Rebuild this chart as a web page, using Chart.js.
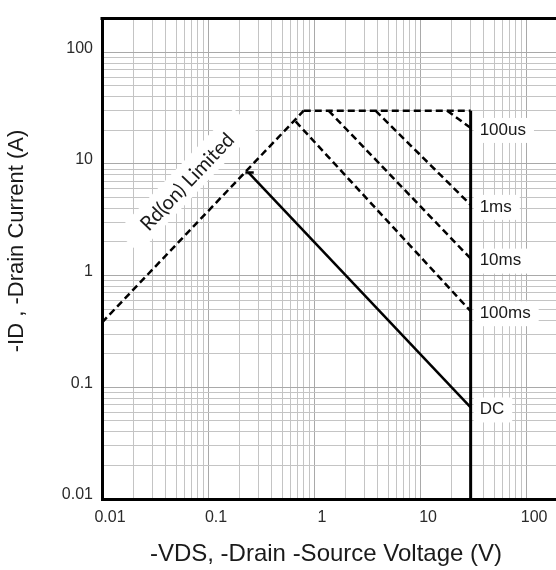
<!DOCTYPE html>
<html>
<head>
<meta charset="utf-8">
<title>Safe Operating Area</title>
<script src="https://cdn.jsdelivr.net/npm/chart.js@4.4.1/dist/chart.umd.min.js"></script>
<style>
  html, body { margin: 0; padding: 0; background: #fff; overflow: hidden; }
  #wrap { width: 560px; height: 570px; position: relative; }
</style>
</head>
<body>
<div id="wrap"><canvas id="grafico"></canvas></div>
<script>
// axis decades that get a label
const vdsDecades = [0.01, 0.1, 1, 10, 100];
const idDecades = [0.01, 0.1, 1, 10, 100];

// device limits
const vdsMax = 30;
const idMax = 30;

// Rds(on) limited line
const rdsV = [0.01, 0.8];
const rdsI = [0.38, 30];

// pulse / DC lines: start on the limit, end on vdsMax
const pulseNames = ['100us', '1ms', '10ms', '100ms', 'DC'];
const pulseStartV = [18, 3.8, 1.37, 0.67, 0.24];
const pulseStartI = [30, 30, 30, 24, 8.4];
const pulseEndI = [21, 4.3, 1.42, 0.48, 0.066];

// little cap where the DC line starts
const dcCapV = [0.225, 0.27];
const dcCapI = [8.4, 8.4];

const rdsLabel = 'Rd(on) Limited';
const rdsLabelAt = { x: 0.063, y: 7 };

function pts(xs, ys) {
    return xs.map((x, i) => ({ x: x, y: ys[i] }));
}

// 1..9 per decade for the grid
function logGrid(from, to) {
    const out = [];
    for (let d = from; d < to; d *= 10) {
        for (let k = 1; k < 10; k++) out.push({ value: +(d * k).toPrecision(3) });
    }
    out.push({ value: to });
    return out;
}

function isDecade(v) {
    const l = Math.log10(v);
    return Math.abs(l - Math.round(l)) < 1e-9;
}

const dashed = { borderColor: '#000', borderWidth: 2.5, borderDash: [7, 4], pointRadius: 0, fill: false, tension: 0 };
const solid = { borderColor: '#000', borderWidth: 2.5, pointRadius: 0, fill: false, tension: 0 };

const datasets = [
    Object.assign({ label: 'rds', data: pts(rdsV, rdsI) }, dashed),
    Object.assign({ label: 'idmax', data: pts([rdsV[1], vdsMax], [idMax, idMax]) }, dashed),
    Object.assign({ label: 'vdsmax', data: pts([vdsMax, vdsMax], [idMax, 0.01]) }, solid, { borderWidth: 3 })
];
pulseNames.forEach((name, i) => {
    const style = name === 'DC' ? solid : dashed;
    datasets.push(Object.assign({
        label: name,
        data: pts([pulseStartV[i], vdsMax], [pulseStartI[i], pulseEndI[i]])
    }, style));
});
datasets.push(Object.assign({ label: 'dccap', data: pts(dcCapV, dcCapI) }, solid));

// labels, white boxes, frame and axis titles
const soaText = {
    id: 'soaText',
    beforeDatasetsDraw(chart) {
        const ctx = chart.ctx;
        const xs = chart.scales.x, ys = chart.scales.y;
        const x1 = xs.getPixelForValue(rdsV[0]), y1 = ys.getPixelForValue(rdsI[0]);
        const x2 = xs.getPixelForValue(rdsV[1]), y2 = ys.getPixelForValue(rdsI[1]);
        const ang = Math.atan2(y2 - y1, x2 - x1);
        ctx.save();
        ctx.translate(xs.getPixelForValue(rdsLabelAt.x), ys.getPixelForValue(rdsLabelAt.y));
        ctx.rotate(ang);
        ctx.font = '20px Lato';
        const w = ctx.measureText(rdsLabel).width;
        ctx.fillStyle = '#fff';
        ctx.fillRect(-w / 2 - 22, -16, w + 44, 31);
        ctx.fillStyle = '#1a1a1a';
        ctx.textAlign = 'center';
        ctx.textBaseline = 'middle';
        ctx.fillText(rdsLabel, 0, 1);
        ctx.restore();
    },
    afterDatasetsDraw(chart) {
        const ctx = chart.ctx;
        const xs = chart.scales.x, ys = chart.scales.y;
        const area = chart.chartArea;
        ctx.save();
        // top edge of the frame
        ctx.strokeStyle = '#000';
        ctx.lineWidth = 3;
        ctx.beginPath();
        ctx.moveTo(area.left - 1.5, area.top);
        ctx.lineTo(area.right, area.top);
        ctx.stroke();

        const px = xs.getPixelForValue(vdsMax);
        ctx.font = '17px "Liberation Sans"';
        ctx.textBaseline = 'middle';
        pulseNames.forEach((name, i) => {
            const py = ys.getPixelForValue(pulseEndI[i]) + 2;
            const w = ctx.measureText(name).width;
            ctx.fillStyle = '#fff';
            ctx.fillRect(px + 3, py - 12, w + 14, 25);
            ctx.fillStyle = '#1a1a1a';
            ctx.fillText(name, px + 9, py);
        });
        ctx.restore();
    },
    afterDraw(chart) {
        const ctx = chart.ctx;
        ctx.save();
        ctx.fillStyle = '#1a1a1a';
        ctx.textAlign = 'center';
        ctx.textBaseline = 'middle';
        ctx.font = '24px "Liberation Sans"';
        ctx.fillText('-VDS, -Drain -Source Voltage (V)', 326, 554);
        ctx.font = '22px "Liberation Sans"';
        ctx.translate(17, 241);
        ctx.rotate(-Math.PI / 2);
        ctx.fillText('-ID , -Drain Current (A)', 0, 0);
        ctx.restore();
    }
};

const tickFont = { family: '"Liberation Sans"', size: 16 };

new Chart(document.getElementById('grafico'), {
    type: 'line',
    data: { datasets: datasets },
    options: {
        responsive: true,
        maintainAspectRatio: false,
        animation: false,
        events: [],
        layout: { padding: { top: 11, right: 2, left: 0, bottom: 0 } },
        plugins: { legend: { display: false }, tooltip: { enabled: false } },
        scales: {
            x: {
                type: 'logarithmic',
                min: 0.01,
                max: 200,
                afterBuildTicks: s => { s.ticks = logGrid(0.01, 100); },
                afterFit: s => { s.height = 71; },
                grid: {
                    color: c => isDecade(c.tick.value) ? '#a9a9a9' : '#c4c4c4',
                    lineWidth: 1,
                    drawTicks: false
                },
                border: { display: true, color: '#000', width: 3 },
                ticks: {
                    autoSkip: false,
                    maxRotation: 0,
                    padding: 9,
                    labelOffset: 8,
                    color: '#2a2a2a',
                    font: tickFont,
                    callback: v => vdsDecades.includes(v) ? String(v) : ''
                }
            },
            y: {
                type: 'logarithmic',
                min: 0.01,
                max: 200,
                afterBuildTicks: s => { s.ticks = logGrid(0.01, 100); },
                afterFit: s => { s.width = 102; },
                grid: {
                    color: c => isDecade(c.tick.value) ? '#a9a9a9' : '#c4c4c4',
                    lineWidth: 1,
                    drawTicks: false
                },
                border: { display: true, color: '#000', width: 3 },
                ticks: {
                    autoSkip: false,
                    padding: 9,
                    labelOffset: -4,
                    color: '#2a2a2a',
                    font: tickFont,
                    callback: v => idDecades.includes(v) ? String(v) : ''
                }
            }
        }
    },
    plugins: [soaText]
});
</script>
</body>
</html>
